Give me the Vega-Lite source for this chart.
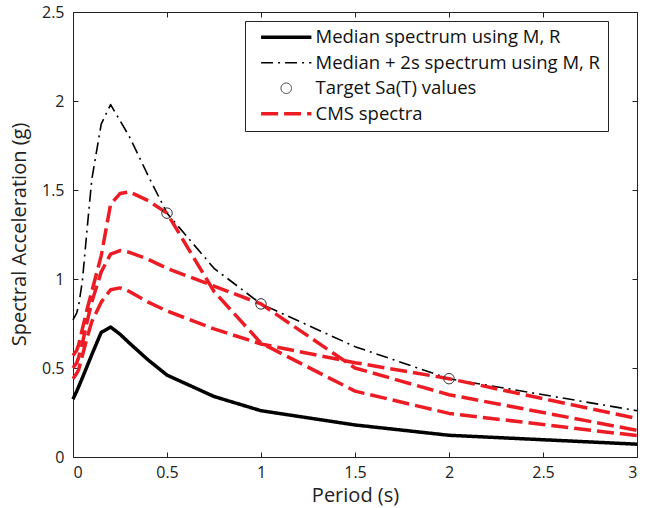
{
  "$schema": "https://vega.github.io/schema/vega-lite/v6.json",
  "width": 564,
  "height": 445,
  "autosize": {"type": "none"},
  "padding": {"left": 73, "top": 12, "right": 9, "bottom": 51},
  "background": "white",
  "config": {
    "view": {"stroke": "#222", "strokeWidth": 1},
    "font": "Open Sans",
    "axis": {"grid": false, "domain": false, "tickSize": -5, "tickColor": "#222", "tickWidth": 1, "labelFontSize": 16, "labelColor": "#222", "titleFontSize": 20, "titleFontWeight": "normal", "titleColor": "#222", "labelFont": "Open Sans", "titleFont": "Open Sans"}
  },
  "data": {"values": [
    {"T": 0, "Sa": 0.325, "series": "Median spectrum using M, R", "curve": "m"},
    {"T": 0.02, "Sa": 0.37, "series": "Median spectrum using M, R", "curve": "m"},
    {"T": 0.03, "Sa": 0.395, "series": "Median spectrum using M, R", "curve": "m"},
    {"T": 0.05, "Sa": 0.445, "series": "Median spectrum using M, R", "curve": "m"},
    {"T": 0.075, "Sa": 0.51, "series": "Median spectrum using M, R", "curve": "m"},
    {"T": 0.1, "Sa": 0.575, "series": "Median spectrum using M, R", "curve": "m"},
    {"T": 0.15, "Sa": 0.7, "series": "Median spectrum using M, R", "curve": "m"},
    {"T": 0.2, "Sa": 0.73, "series": "Median spectrum using M, R", "curve": "m"},
    {"T": 0.25, "Sa": 0.69, "series": "Median spectrum using M, R", "curve": "m"},
    {"T": 0.3, "Sa": 0.64, "series": "Median spectrum using M, R", "curve": "m"},
    {"T": 0.4, "Sa": 0.545, "series": "Median spectrum using M, R", "curve": "m"},
    {"T": 0.5, "Sa": 0.46, "series": "Median spectrum using M, R", "curve": "m"},
    {"T": 0.75, "Sa": 0.34, "series": "Median spectrum using M, R", "curve": "m"},
    {"T": 1, "Sa": 0.26, "series": "Median spectrum using M, R", "curve": "m"},
    {"T": 1.5, "Sa": 0.18, "series": "Median spectrum using M, R", "curve": "m"},
    {"T": 2, "Sa": 0.122, "series": "Median spectrum using M, R", "curve": "m"},
    {"T": 3, "Sa": 0.072, "series": "Median spectrum using M, R", "curve": "m"},

    {"T": 0, "Sa": 0.77, "series": "Median + 2s spectrum using M, R", "curve": "d"},
    {"T": 0.02, "Sa": 0.81, "series": "Median + 2s spectrum using M, R", "curve": "d"},
    {"T": 0.03, "Sa": 0.85, "series": "Median + 2s spectrum using M, R", "curve": "d"},
    {"T": 0.05, "Sa": 0.99, "series": "Median + 2s spectrum using M, R", "curve": "d"},
    {"T": 0.075, "Sa": 1.28, "series": "Median + 2s spectrum using M, R", "curve": "d"},
    {"T": 0.1, "Sa": 1.56, "series": "Median + 2s spectrum using M, R", "curve": "d"},
    {"T": 0.15, "Sa": 1.87, "series": "Median + 2s spectrum using M, R", "curve": "d"},
    {"T": 0.2, "Sa": 1.98, "series": "Median + 2s spectrum using M, R", "curve": "d"},
    {"T": 0.25, "Sa": 1.89, "series": "Median + 2s spectrum using M, R", "curve": "d"},
    {"T": 0.3, "Sa": 1.8, "series": "Median + 2s spectrum using M, R", "curve": "d"},
    {"T": 0.4, "Sa": 1.58, "series": "Median + 2s spectrum using M, R", "curve": "d"},
    {"T": 0.5, "Sa": 1.37, "series": "Median + 2s spectrum using M, R", "curve": "d"},
    {"T": 0.75, "Sa": 1.06, "series": "Median + 2s spectrum using M, R", "curve": "d"},
    {"T": 1, "Sa": 0.86, "series": "Median + 2s spectrum using M, R", "curve": "d"},
    {"T": 1.5, "Sa": 0.62, "series": "Median + 2s spectrum using M, R", "curve": "d"},
    {"T": 2, "Sa": 0.44, "series": "Median + 2s spectrum using M, R", "curve": "d"},
    {"T": 3, "Sa": 0.26, "series": "Median + 2s spectrum using M, R", "curve": "d"},

    {"T": 0, "Sa": 0.57, "series": "CMS spectra", "curve": "c05"},
    {"T": 0.02, "Sa": 0.6, "series": "CMS spectra", "curve": "c05"},
    {"T": 0.03, "Sa": 0.63, "series": "CMS spectra", "curve": "c05"},
    {"T": 0.05, "Sa": 0.72, "series": "CMS spectra", "curve": "c05"},
    {"T": 0.075, "Sa": 0.83, "series": "CMS spectra", "curve": "c05"},
    {"T": 0.1, "Sa": 0.93, "series": "CMS spectra", "curve": "c05"},
    {"T": 0.15, "Sa": 1.13, "series": "CMS spectra", "curve": "c05"},
    {"T": 0.2, "Sa": 1.42, "series": "CMS spectra", "curve": "c05"},
    {"T": 0.25, "Sa": 1.48, "series": "CMS spectra", "curve": "c05"},
    {"T": 0.3, "Sa": 1.49, "series": "CMS spectra", "curve": "c05"},
    {"T": 0.4, "Sa": 1.44, "series": "CMS spectra", "curve": "c05"},
    {"T": 0.5, "Sa": 1.37, "series": "CMS spectra", "curve": "c05"},
    {"T": 0.75, "Sa": 0.93, "series": "CMS spectra", "curve": "c05"},
    {"T": 1, "Sa": 0.64, "series": "CMS spectra", "curve": "c05"},
    {"T": 1.5, "Sa": 0.37, "series": "CMS spectra", "curve": "c05"},
    {"T": 2, "Sa": 0.245, "series": "CMS spectra", "curve": "c05"},
    {"T": 3, "Sa": 0.12, "series": "CMS spectra", "curve": "c05"},

    {"T": 0, "Sa": 0.5, "series": "CMS spectra", "curve": "c1"},
    {"T": 0.02, "Sa": 0.53, "series": "CMS spectra", "curve": "c1"},
    {"T": 0.03, "Sa": 0.56, "series": "CMS spectra", "curve": "c1"},
    {"T": 0.05, "Sa": 0.64, "series": "CMS spectra", "curve": "c1"},
    {"T": 0.075, "Sa": 0.76, "series": "CMS spectra", "curve": "c1"},
    {"T": 0.1, "Sa": 0.87, "series": "CMS spectra", "curve": "c1"},
    {"T": 0.15, "Sa": 1.04, "series": "CMS spectra", "curve": "c1"},
    {"T": 0.2, "Sa": 1.14, "series": "CMS spectra", "curve": "c1"},
    {"T": 0.25, "Sa": 1.16, "series": "CMS spectra", "curve": "c1"},
    {"T": 0.3, "Sa": 1.15, "series": "CMS spectra", "curve": "c1"},
    {"T": 0.4, "Sa": 1.11, "series": "CMS spectra", "curve": "c1"},
    {"T": 0.5, "Sa": 1.06, "series": "CMS spectra", "curve": "c1"},
    {"T": 0.75, "Sa": 0.96, "series": "CMS spectra", "curve": "c1"},
    {"T": 1, "Sa": 0.86, "series": "CMS spectra", "curve": "c1"},
    {"T": 1.5, "Sa": 0.5, "series": "CMS spectra", "curve": "c1"},
    {"T": 2, "Sa": 0.35, "series": "CMS spectra", "curve": "c1"},
    {"T": 3, "Sa": 0.15, "series": "CMS spectra", "curve": "c1"},

    {"T": 0, "Sa": 0.44, "series": "CMS spectra", "curve": "c2"},
    {"T": 0.02, "Sa": 0.47, "series": "CMS spectra", "curve": "c2"},
    {"T": 0.03, "Sa": 0.49, "series": "CMS spectra", "curve": "c2"},
    {"T": 0.05, "Sa": 0.57, "series": "CMS spectra", "curve": "c2"},
    {"T": 0.075, "Sa": 0.67, "series": "CMS spectra", "curve": "c2"},
    {"T": 0.1, "Sa": 0.76, "series": "CMS spectra", "curve": "c2"},
    {"T": 0.15, "Sa": 0.87, "series": "CMS spectra", "curve": "c2"},
    {"T": 0.2, "Sa": 0.94, "series": "CMS spectra", "curve": "c2"},
    {"T": 0.25, "Sa": 0.95, "series": "CMS spectra", "curve": "c2"},
    {"T": 0.3, "Sa": 0.93, "series": "CMS spectra", "curve": "c2"},
    {"T": 0.4, "Sa": 0.87, "series": "CMS spectra", "curve": "c2"},
    {"T": 0.5, "Sa": 0.82, "series": "CMS spectra", "curve": "c2"},
    {"T": 0.75, "Sa": 0.72, "series": "CMS spectra", "curve": "c2"},
    {"T": 1, "Sa": 0.635, "series": "CMS spectra", "curve": "c2"},
    {"T": 1.5, "Sa": 0.53, "series": "CMS spectra", "curve": "c2"},
    {"T": 2, "Sa": 0.44, "series": "CMS spectra", "curve": "c2"},
    {"T": 3, "Sa": 0.216, "series": "CMS spectra", "curve": "c2"},

    {"T": 0.5, "Sa": 1.37, "series": "Target Sa(T) values", "curve": "t"},
    {"T": 1, "Sa": 0.86, "series": "Target Sa(T) values", "curve": "t"},
    {"T": 2, "Sa": 0.44, "series": "Target Sa(T) values", "curve": "t"}
  ]},
  "layer": [
    {
      "transform": [{"filter": "datum.series !== 'Target Sa(T) values'"}],
      "mark": {"type": "line", "strokeCap": "butt", "strokeJoin": "round"},
      "encoding": {
        "x": {"field": "T", "type": "quantitative", "scale": {"domain": [0, 3], "nice": false, "zero": false},
              "axis": {"orient": "bottom", "values": [0, 0.5, 1, 1.5, 2, 2.5, 3], "format": "~g", "labelPadding": 12, "title": "Period (s)", "titleX": 282, "titleY": 38.5, "titleBaseline": "middle", "titleAlign": "center"}},
        "y": {"field": "Sa", "type": "quantitative", "scale": {"domain": [0, 2.5], "nice": false, "zero": false},
              "axis": {"orient": "left", "values": [0, 0.5, 1, 1.5, 2, 2.5], "format": "~g", "labelPadding": 14, "title": "Spectral Acceleration (g)", "titleX": -54, "titleY": 222, "titleAngle": -90, "titleBaseline": "middle", "titleAlign": "center"}},
        "color": {"field": "series", "type": "nominal",
                  "scale": {"domain": ["Median spectrum using M, R", "Median + 2s spectrum using M, R", "Target Sa(T) values", "CMS spectra"], "range": ["#000000", "#000000", "#333333", "#ED1C24"]},
                  "legend": {"title": null, "orient": "none", "legendX": 172, "legendY": 9, "strokeColor": "#222", "fillColor": "white", "padding": 7, "symbolSize": 110, "labelFontSize": 18.5, "labelFont": "Open Sans", "labelColor": "#111", "rowPadding": 6.5, "symbolOffset": 25, "labelOffset": 20, "labelLimit": 400}},
        "strokeDash": {"field": "series", "type": "nominal",
                  "scale": {"type": "ordinal", "domain": ["Median spectrum using M, R", "Median + 2s spectrum using M, R", "Target Sa(T) values", "CMS spectra"], "range": [[1, 0], [12, 5, 2, 5], [1, 0], [17, 6]]},
                  "legend": {"title": null, "orient": "none", "legendX": 172, "legendY": 9}},
        "strokeWidth": {"field": "series", "type": "nominal",
                  "scale": {"type": "ordinal", "domain": ["Median spectrum using M, R", "Median + 2s spectrum using M, R", "Target Sa(T) values", "CMS spectra"], "range": [3.5, 1.6, 1, 3.5]},
                  "legend": {"title": null, "orient": "none", "legendX": 172, "legendY": 9}},
        "detail": {"field": "curve", "type": "nominal"}
      }
    },
    {
      "transform": [{"filter": "datum.series === 'Target Sa(T) values'"}],
      "mark": {"type": "point", "filled": false, "size": 110, "opacity": 1},
      "encoding": {
        "x": {"field": "T", "type": "quantitative", "axis": {"orient": "top", "values": [0, 0.5, 1, 1.5, 2, 2.5, 3], "labels": false, "title": null}},
        "y": {"field": "Sa", "type": "quantitative", "axis": {"orient": "right", "values": [0, 0.5, 1, 1.5, 2, 2.5], "labels": false, "title": null}},
        "color": {"field": "series", "type": "nominal",
                  "scale": {"domain": ["Median spectrum using M, R", "Median + 2s spectrum using M, R", "Target Sa(T) values", "CMS spectra"], "range": ["#000000", "#000000", "#333333", "#ED1C24"]}},
        "shape": {"field": "series", "type": "nominal",
                  "scale": {"domain": ["Median spectrum using M, R", "Median + 2s spectrum using M, R", "Target Sa(T) values", "CMS spectra"], "range": ["M-4.8,0H4.8", "M-4.8,0H4.8", "circle", "M-4.8,0H4.8"]},
                  "legend": {"title": null, "orient": "none", "legendX": 172, "legendY": 9}},
        "strokeWidth": {"field": "series", "type": "nominal",
                  "scale": {"type": "ordinal", "domain": ["Median spectrum using M, R", "Median + 2s spectrum using M, R", "Target Sa(T) values", "CMS spectra"], "range": [3.5, 1.6, 1, 3.5]}}
      }
    }
  ],
  "resolve": {"axis": {"x": "independent", "y": "independent"}}
}
